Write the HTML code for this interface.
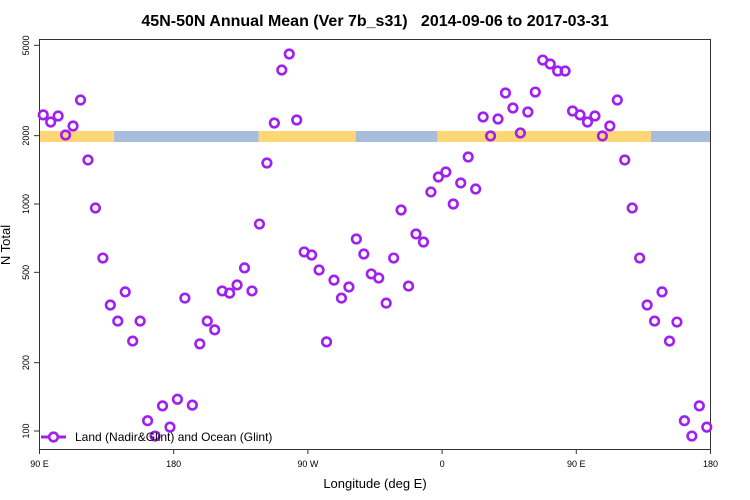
<!DOCTYPE html>
<html><head><meta charset="utf-8"><style>
body{margin:0;background:#fff}
svg{display:block;font-family:"Liberation Sans",sans-serif}
</style></head><body>
<svg id="c" width="750" height="500">
<text x="375" y="26" text-anchor="middle" font-size="16" font-weight="bold" style="white-space:pre" xml:space="preserve">45N-50N Annual Mean (Ver 7b_s31)   2014-09-06 to 2017-03-31</text>
<text x="375" y="488" text-anchor="middle" font-size="13">Longitude (deg E)</text>
<text transform="translate(10,245) rotate(-90)" text-anchor="middle" font-size="13">N Total</text>
<g id="band"></g>
<rect x="39.5" y="39.5" width="671" height="410" fill="none" stroke="#333" stroke-width="1"/>
<g id="axes"></g>
<g id="pts"></g>
<g>
<line x1="41" y1="437" x2="66" y2="437" stroke="#A020F0" stroke-width="3"/>
<circle cx="53.5" cy="437" r="4.3" fill="#fff" stroke="#A020F0" stroke-width="2.6"/>
<text x="75" y="441" font-size="12">Land (Nadir&amp;Glint) and Ocean (Glint)</text>
</g>
</svg>
<script>
const values=[2470,2297,2442,2014,2206,2871,1563,960,578,359,305,410,249,305,111,95,129,104,138,385,130,242,305,279,414,405,440,523,414,816,1516,2274,3892,4579,2344,615,596,512,247,462,385,431,701,602,492,472,366,578,941,435,738,680,1130,1315,1383,1000,1238,1611,1164,2417,1994,2368,3083,2648,2055,2543,3113,4307,4138,3853,3853,2569,2470,2297,2442,1994,2206,2871,1563,960,578,359,305,410,249,302,111,95,129,104];
const lonStart=92.5, lonStep=5;
const yTicks=[100,200,500,1000,2000,5000];
const xTicks=[90,180,270,360,450,540];
const xTickLabels=["90 E","180","90 W","0","90 E","180"];
const bandSegs=[[90,140,"land"],[140,237,"ocean"],[237,302,"land"],[302,357,"ocean"],[357,500,"land"],[500,540,"ocean"]];
const X=l=>39.5+(l-90)*(671/450);
const Y=v=>431-227*Math.log10(v/100);
const NS="http://www.w3.org/2000/svg";
function mk(t,a,p){const e=document.createElementNS(NS,t);for(const k in a)e.setAttribute(k,a[k]);p.appendChild(e);return e;}
const band=document.getElementById('band');
bandSegs.forEach(s=>{const r=mk('rect',{x:X(s[0]),y:131,width:X(s[1])-X(s[0]),height:11,fill:s[2]=="land"?"#FDD775":"#A7BDDA"},band);

});
const ax=document.getElementById('axes');
yTicks.forEach(v=>{const y=Y(v);mk('line',{x1:34,x2:39.5,y1:y,y2:y,stroke:'#333'},ax);
const t=mk('text',{transform:`translate(29,${y}) rotate(-90)`,'text-anchor':'middle','font-size':9},ax);t.textContent=v;

});
xTicks.forEach((l,i)=>{const x=X(l);mk('line',{x1:x,x2:x,y1:449.5,y2:454,stroke:'#333'},ax);
const t=mk('text',{x:x,y:467,'text-anchor':'middle','font-size':9},ax);t.textContent=xTickLabels[i];

});
const pts=document.getElementById('pts');
values.forEach((v,i)=>{const c=mk('circle',{cx:X(lonStart+i*lonStep),cy:Y(v),r:4.3,fill:'none',stroke:'#A020F0','stroke-width':2.6},pts);

});
</script>
</body></html>
